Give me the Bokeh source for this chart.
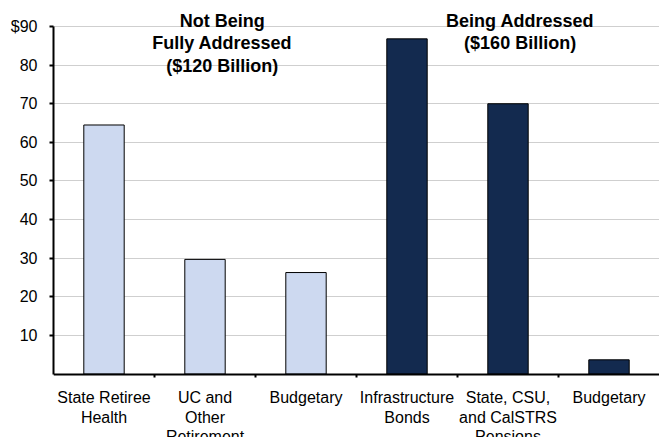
from bokeh.plotting import figure
from bokeh.models import Range1d, FixedTicker, LinearAxis, Label
from bokeh.embed import file_html
from bokeh.resources import INLINE

# ---- data ----
categories = ["State Retiree\nHealth", "UC and\nOther\nRetirement", "Budgetary",
              "Infrastructure\nBonds", "State, CSU,\nand CalSTRS\nPensions", "Budgetary"]
values = [64.5, 29.7, 26.3, 86.8, 70.0, 3.7]
groups = ["not", "not", "not", "being", "being", "being"]
group_titles = {"not": ["Not Being", "Fully Addressed", "($120 Billion)"],
                "being": ["Being Addressed", "($160 Billion)"]}
y_ticks = [10, 20, 30, 40, 50, 60, 70, 80, 90]
y_tick_labels = {90: "$90"}

LIGHT = "#cdd9f0"
DARK = "#132a4f"
FONT = "Liberation Sans"

n = len(categories)
xs = [i + 0.5 for i in range(n)]
colors = [LIGHT if g == "not" else DARK for g in groups]

p = figure(width=659, height=437, output_backend="svg", toolbar_location=None,
           x_range=Range1d(0, 6.0), y_range=Range1d(-16.41, 96.73),
           min_border_left=53, min_border_right=0, min_border_top=0, min_border_bottom=0,
           x_axis_location=None, y_axis_location=None)
p.outline_line_color = None
p.background_fill_color = "white"
p.border_fill_color = "white"

p.vbar(x=xs, top=values, width=0.4, fill_color=colors, line_color="black", line_width=1)

# y axis
yax = LinearAxis(ticker=FixedTicker(ticks=y_ticks), bounds=(0, 90))
yax.major_label_overrides = y_tick_labels
yax.axis_line_width = 2
yax.axis_line_color = "black"
yax.major_tick_line_width = 2
yax.major_tick_in = 0
yax.major_tick_out = 4
yax.minor_tick_line_color = None
yax.major_label_standoff = 12
yax.major_label_text_font = FONT
yax.major_label_text_font_size = "16px"
yax.major_label_text_color = "black"
p.add_layout(yax, "left")

# x axis line with ticks at category boundaries, placed at y = 0
xax = LinearAxis(ticker=FixedTicker(ticks=list(range(1, n))), fixed_location=0)
xax.axis_line_width = 2
xax.axis_line_color = "black"
xax.major_tick_line_width = 2
xax.major_tick_in = 0
xax.major_tick_out = 3
xax.minor_tick_line_color = None
xax.major_label_overrides = {i: "" for i in range(1, n)}
xax.major_label_standoff = 0
p.add_layout(xax, "below")

# category labels (ticks at bar centres, no tick marks)
cax = LinearAxis(ticker=FixedTicker(ticks=xs), fixed_location=0)
cax.axis_line_color = None
cax.major_tick_line_color = None
cax.minor_tick_line_color = None
cax.major_label_overrides = {x: c for x, c in zip(xs, categories)}
cax.major_label_standoff = 9
cax.major_label_text_font = FONT
cax.major_label_text_font_size = "16px"
cax.major_label_text_color = "black"
cax.major_label_text_line_height = 1.15
p.add_layout(cax, "below")

p.xgrid.visible = False
p.ygrid.ticker = FixedTicker(ticks=y_ticks)
p.ygrid.grid_line_color = "#cfcfcf"
p.ygrid.grid_line_width = 1

# group titles
title_x = {"not": 1.67, "being": 4.62}
line_y = [91.5, 85.6, 79.9]
for g, lines in group_titles.items():
    for yv, t in zip(line_y, lines):
        p.add_layout(Label(x=title_x[g], y=yv, text=t, text_align="center",
                           text_baseline="middle", text_font=FONT, text_font_size="18px",
                           text_font_style="bold", text_color="black"))

open("out.html", "w").write(file_html(p, INLINE))
